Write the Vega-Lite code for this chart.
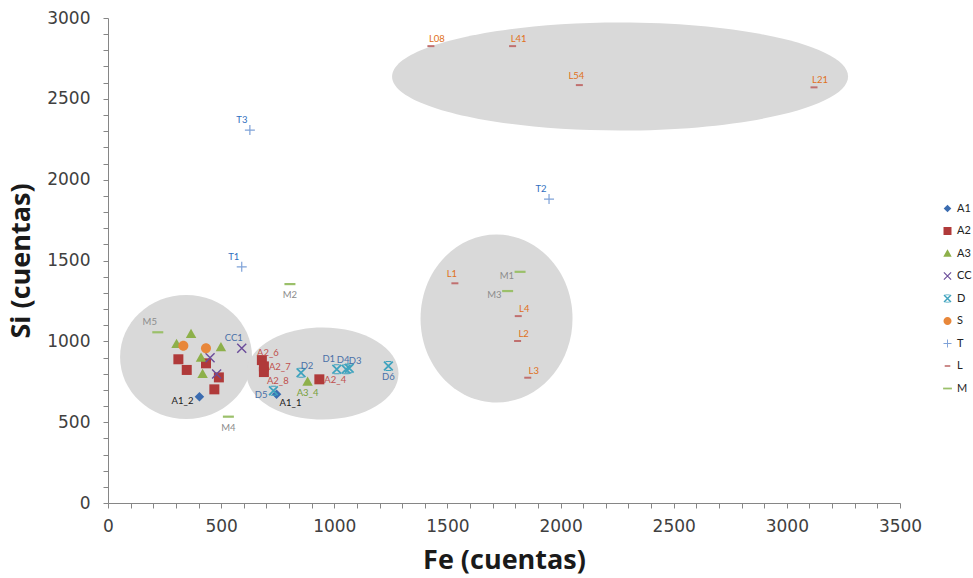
{
  "$schema": "https://vega.github.io/schema/vega-lite/v6.json",
  "width": 792,
  "height": 485,
  "autosize": {"type": "none"},
  "padding": {"left": 108, "top": 18, "right": 73, "bottom": 75},
  "background": "white",
  "config": {"view": {"stroke": null}, "font": "Lato"},
  "datasets": {
    "ell": [
      {"id": "left", "Fe": 345, "Si": 903},
      {"id": "mid", "Fe": 948, "Si": 801},
      {"id": "right", "Fe": 1717, "Si": 1141},
      {"id": "top", "Fe": 2263, "Si": 2638}
    ],
    "pts": [
      {"series": "A1", "label": "A1_2", "Fe": 404, "Si": 657, "lp": "l"},
      {"series": "A1", "label": "A1_1", "Fe": 745, "Si": 672, "lp": "br"},
      {"series": "A2", "label": null, "Fe": 311, "Si": 889, "lp": null},
      {"series": "A2", "label": null, "Fe": 348, "Si": 823, "lp": null},
      {"series": "A2", "label": null, "Fe": 433, "Si": 864, "lp": null},
      {"series": "A2", "label": null, "Fe": 490, "Si": 777, "lp": null},
      {"series": "A2", "label": null, "Fe": 470, "Si": 703, "lp": null},
      {"series": "A2", "label": "A2_6", "Fe": 680, "Si": 884, "lp": "tr"},
      {"series": "A2", "label": "A2_7", "Fe": 689, "Si": 845, "lp": "r"},
      {"series": "A2", "label": "A2_8", "Fe": 689, "Si": 810, "lp": "br"},
      {"series": "A2", "label": "A2_4", "Fe": 934, "Si": 765, "lp": "r"},
      {"series": "A3", "label": null, "Fe": 367, "Si": 1045, "lp": null},
      {"series": "A3", "label": null, "Fe": 303, "Si": 983, "lp": null},
      {"series": "A3", "label": null, "Fe": 499, "Si": 963, "lp": null},
      {"series": "A3", "label": null, "Fe": 411, "Si": 899, "lp": null},
      {"series": "A3", "label": null, "Fe": 418, "Si": 798, "lp": null},
      {"series": "A3", "label": "A3_4", "Fe": 882, "Si": 750, "lp": "b"},
      {"series": "CC", "label": "CC1", "Fe": 591, "Si": 957, "lp": "tl"},
      {"series": "CC", "label": null, "Fe": 451, "Si": 899, "lp": null},
      {"series": "CC", "label": null, "Fe": 480, "Si": 798, "lp": null},
      {"series": "D", "label": "D2", "Fe": 853, "Si": 806, "lp": "tr"},
      {"series": "D", "label": "D1", "Fe": 1011, "Si": 827, "lp": "tl"},
      {"series": "D", "label": "D4", "Fe": 1052, "Si": 827, "lp": "t"},
      {"series": "D", "label": "D3", "Fe": 1066, "Si": 833, "lp": "tr"},
      {"series": "D", "label": "D6", "Fe": 1239, "Si": 847, "lp": "b"},
      {"series": "D", "label": "D5", "Fe": 731, "Si": 695, "lp": "l"},
      {"series": "S", "label": null, "Fe": 333, "Si": 973, "lp": null},
      {"series": "S", "label": null, "Fe": 433, "Si": 957, "lp": null},
      {"series": "T", "label": "T3", "Fe": 627, "Si": 2307, "lp": "tl"},
      {"series": "T", "label": "T1", "Fe": 591, "Si": 1461, "lp": "tl"},
      {"series": "T", "label": "T2", "Fe": 1949, "Si": 1880, "lp": "tl"},
      {"series": "L", "label": "L1", "Fe": 1533, "Si": 1359, "lp": "t"},
      {"series": "L", "label": "L4", "Fe": 1813, "Si": 1156, "lp": "tr"},
      {"series": "L", "label": "L2", "Fe": 1810, "Si": 1002, "lp": "tr"},
      {"series": "L", "label": "L3", "Fe": 1855, "Si": 775, "lp": "tr"},
      {"series": "L", "label": "L08", "Fe": 1427, "Si": 2826, "lp": "tr"},
      {"series": "L", "label": "L41", "Fe": 1788, "Si": 2826, "lp": "tr"},
      {"series": "L", "label": "L54", "Fe": 2083, "Si": 2585, "lp": "t"},
      {"series": "L", "label": "L21", "Fe": 3120, "Si": 2571, "lp": "tr"},
      {"series": "M", "label": "M5", "Fe": 220, "Si": 1056, "lp": "tl"},
      {"series": "M", "label": "M4", "Fe": 532, "Si": 534, "lp": "b"},
      {"series": "M", "label": "M2", "Fe": 804, "Si": 1354, "lp": "b"},
      {"series": "M", "label": "M1", "Fe": 1821, "Si": 1430, "lp": "l"},
      {"series": "M", "label": "M3", "Fe": 1766, "Si": 1311, "lp": "l"}
    ]
  },
  "encoding": {
    "x": {
      "field": "Fe", "type": "quantitative",
      "scale": {"domain": [0, 3500], "nice": false},
      "axis": {
        "title": "Fe (cuentas)",
        "values": [0,100,200,300,400,500,600,700,800,900,1000,1100,1200,1300,1400,1500,1600,1700,1800,1900,2000,2100,2200,2300,2400,2500,2600,2700,2800,2900,3000,3100,3200,3300,3400,3500],
        "labelExpr": "datum.value % 500 === 0 ? datum.label : ''",
        "format": "d",
        "labelOverlap": false, "labelFlush": false, "grid": false,
        "titleFont": "Open Sans", "titleFontSize": 27, "titleFontWeight": "bold", "titleColor": "#1a1a1a",
        "labelFont": "DejaVu Sans", "labelFontSize": 17, "labelColor": "#404040",
        "domainColor": "#868686", "tickColor": "#868686", "tickSize": 5,
        "labelPadding": 10, "titlePadding": 13
      }
    },
    "y": {
      "field": "Si", "type": "quantitative",
      "scale": {"domain": [0, 3000], "nice": false},
      "axis": {
        "title": "Si (cuentas)",
        "values": [0,100,200,300,400,500,600,700,800,900,1000,1100,1200,1300,1400,1500,1600,1700,1800,1900,2000,2100,2200,2300,2400,2500,2600,2700,2800,2900,3000],
        "labelExpr": "datum.value % 500 === 0 ? datum.label : ''",
        "format": "d",
        "labelOverlap": false, "labelFlush": false, "grid": false,
        "titleFont": "Open Sans", "titleFontSize": 27, "titleFontWeight": "bold", "titleColor": "#1a1a1a",
        "labelFont": "DejaVu Sans", "labelFontSize": 17, "labelColor": "#404040",
        "domainColor": "#868686", "tickColor": "#868686", "tickSize": 5,
        "labelPadding": 13, "titlePadding": 11
      }
    }
  },
  "layer": [
    {"data": {"name": "ell"}, "transform": [{"filter": "datum.id === 'left'"}],
     "mark": {"type": "point", "filled": true, "opacity": 1, "strokeWidth": 0, "color": "#D9D9D9", "size": 4,
              "shape": "M -66 0 A 66 62 0 1 0 66 0 A 66 62 0 1 0 -66 0 Z"}},
    {"data": {"name": "ell"}, "transform": [{"filter": "datum.id === 'mid'"}],
     "mark": {"type": "point", "filled": true, "opacity": 1, "strokeWidth": 0, "color": "#D9D9D9", "size": 4,
              "shape": "M -76 0 A 76 46 0 1 0 76 0 A 76 46 0 1 0 -76 0 Z"}},
    {"data": {"name": "ell"}, "transform": [{"filter": "datum.id === 'right'"}],
     "mark": {"type": "point", "filled": true, "opacity": 1, "strokeWidth": 0, "color": "#D9D9D9", "size": 4,
              "shape": "M -76 0 A 76 84 0 1 0 76 0 A 76 84 0 1 0 -76 0 Z"}},
    {"data": {"name": "ell"}, "transform": [{"filter": "datum.id === 'top'"}],
     "mark": {"type": "point", "filled": true, "opacity": 1, "strokeWidth": 0, "color": "#D9D9D9", "size": 4,
              "shape": "M -228 0 A 228 54 0 1 0 228 0 A 228 54 0 1 0 -228 0 Z"}},
    {"data": {"name": "pts"},
     "mark": {"type": "point", "filled": true, "opacity": 1, "strokeWidth": 0, "size": 100},
     "encoding": {
       "color": {"field": "series", "type": "nominal",
         "scale": {"domain": ["A1","A2","A3","CC","D","S","T","L","M"],
                   "range": ["#3B6CB0","#B03A3A","#8DB04A","#6B4C9A","#3FA3BE","#E8873A","#7FA2D8","#C0706F","#9BC06A"]},
         "legend": {"title": null, "orient": "none", "legendX": 834, "legendY": 185, "padding": 0,
                    "symbolSize": 64, "labelFont": "Lato", "labelFontSize": 11, "labelColor": "#222222", "labelOffset": 4,
                    "rowPadding": 10.5, "symbolStrokeWidth": 0}},
       "shape": {"field": "series", "type": "nominal",
         "scale": {"domain": ["A1","A2","A3","CC","D","S","T","L","M"],
                   "range": [
                     "M 0 -0.95 L 0.95 0 L 0 0.95 L -0.95 0 Z",
                     "M -1 -1 L 1 -1 L 1 1 L -1 1 Z",
                     "M 0 -1.05 L 1.05 0.8 L -1.05 0.8 Z",
                     "M -1 -0.8 L -0.8 -1 L 1 0.8 L 0.8 1 Z M 1 -0.8 L -0.8 1 L -1 0.8 L 0.8 -1 Z",
                     "M -1 -0.75 L -0.75 -1 L 1 0.75 L 0.75 1 Z M 1 -0.75 L -0.75 1 L -1 0.75 L 0.75 -1 Z M -0.55 -1 L 0.55 -1 L 0.55 -0.8 L -0.55 -0.8 Z M -0.55 0.8 L 0.55 0.8 L 0.55 1 L -0.55 1 Z",
                     "M -1 0 A 1 1 0 1 0 1 0 A 1 1 0 1 0 -1 0 Z",
                     "M -1 -0.12 L 1 -0.12 L 1 0.12 L -1 0.12 Z M -0.12 -1 L 0.12 -1 L 0.12 1 L -0.12 1 Z",
                     "M -0.7 -0.2 L 0.7 -0.2 L 0.7 0.2 L -0.7 0.2 Z",
                     "M -1.1 -0.22 L 1.1 -0.22 L 1.1 0.22 L -1.1 0.22 Z"
                   ]},
         "legend": {"title": null, "orient": "none", "legendX": 834, "legendY": 185, "padding": 0,
                    "symbolSize": 64, "labelFont": "Lato", "labelFontSize": 11, "labelColor": "#222222", "labelOffset": 4,
                    "rowPadding": 10.5, "symbolStrokeWidth": 0}}
     }},
    {"data": {"name": "pts"}, "transform": [{"filter": "datum.lp === 'tr'"}],
     "mark": {"type": "text", "dx": 6, "dy": -7, "fontSize": 9.5, "align": "center", "baseline": "middle"},
     "encoding": {"text": {"field": "label"},
       "fill": {"field": "series", "type": "nominal", "legend": null,
         "scale": {"domain": ["A1","A2","A3","CC","D","S","T","L","M"],
                   "range": ["#1A1A1A","#C0504D","#77A03A","#4A70A8","#4A70A8","#E46C0A","#2F6FC0","#E07020","#8C8C8C"]}}}},
    {"data": {"name": "pts"}, "transform": [{"filter": "datum.lp === 't'"}],
     "mark": {"type": "text", "dx": -3, "dy": -9, "fontSize": 9.5, "align": "center", "baseline": "middle"},
     "encoding": {"text": {"field": "label"},
       "fill": {"field": "series", "type": "nominal", "legend": null,
         "scale": {"domain": ["A1","A2","A3","CC","D","S","T","L","M"],
                   "range": ["#1A1A1A","#C0504D","#77A03A","#4A70A8","#4A70A8","#E46C0A","#2F6FC0","#E07020","#8C8C8C"]}}}},
    {"data": {"name": "pts"}, "transform": [{"filter": "datum.lp === 'tl'"}],
     "mark": {"type": "text", "dx": -8, "dy": -10, "fontSize": 9.5, "align": "center", "baseline": "middle"},
     "encoding": {"text": {"field": "label"},
       "fill": {"field": "series", "type": "nominal", "legend": null,
         "scale": {"domain": ["A1","A2","A3","CC","D","S","T","L","M"],
                   "range": ["#1A1A1A","#C0504D","#77A03A","#4A70A8","#4A70A8","#E46C0A","#2F6FC0","#E07020","#8C8C8C"]}}}},
    {"data": {"name": "pts"}, "transform": [{"filter": "datum.lp === 'b'"}],
     "mark": {"type": "text", "dx": 0, "dy": 11, "fontSize": 9.5, "align": "center", "baseline": "middle"},
     "encoding": {"text": {"field": "label"},
       "fill": {"field": "series", "type": "nominal", "legend": null,
         "scale": {"domain": ["A1","A2","A3","CC","D","S","T","L","M"],
                   "range": ["#1A1A1A","#C0504D","#77A03A","#4A70A8","#4A70A8","#E46C0A","#2F6FC0","#E07020","#8C8C8C"]}}}},
    {"data": {"name": "pts"}, "transform": [{"filter": "datum.lp === 'l'"}],
     "mark": {"type": "text", "dx": -6, "dy": 4, "fontSize": 9.5, "align": "right", "baseline": "middle"},
     "encoding": {"text": {"field": "label"},
       "fill": {"field": "series", "type": "nominal", "legend": null,
         "scale": {"domain": ["A1","A2","A3","CC","D","S","T","L","M"],
                   "range": ["#1A1A1A","#C0504D","#77A03A","#4A70A8","#4A70A8","#E46C0A","#2F6FC0","#E07020","#8C8C8C"]}}}},
    {"data": {"name": "pts"}, "transform": [{"filter": "datum.lp === 'r'"}],
     "mark": {"type": "text", "dx": 5, "dy": 1, "fontSize": 9.5, "align": "left", "baseline": "middle"},
     "encoding": {"text": {"field": "label"},
       "fill": {"field": "series", "type": "nominal", "legend": null,
         "scale": {"domain": ["A1","A2","A3","CC","D","S","T","L","M"],
                   "range": ["#1A1A1A","#C0504D","#77A03A","#4A70A8","#4A70A8","#E46C0A","#2F6FC0","#E07020","#8C8C8C"]}}}},
    {"data": {"name": "pts"}, "transform": [{"filter": "datum.lp === 'br'"}],
     "mark": {"type": "text", "dx": 3, "dy": 9, "fontSize": 9.5, "align": "left", "baseline": "middle"},
     "encoding": {"text": {"field": "label"},
       "fill": {"field": "series", "type": "nominal", "legend": null,
         "scale": {"domain": ["A1","A2","A3","CC","D","S","T","L","M"],
                   "range": ["#1A1A1A","#C0504D","#77A03A","#4A70A8","#4A70A8","#E46C0A","#2F6FC0","#E07020","#8C8C8C"]}}}}
  ]
}
